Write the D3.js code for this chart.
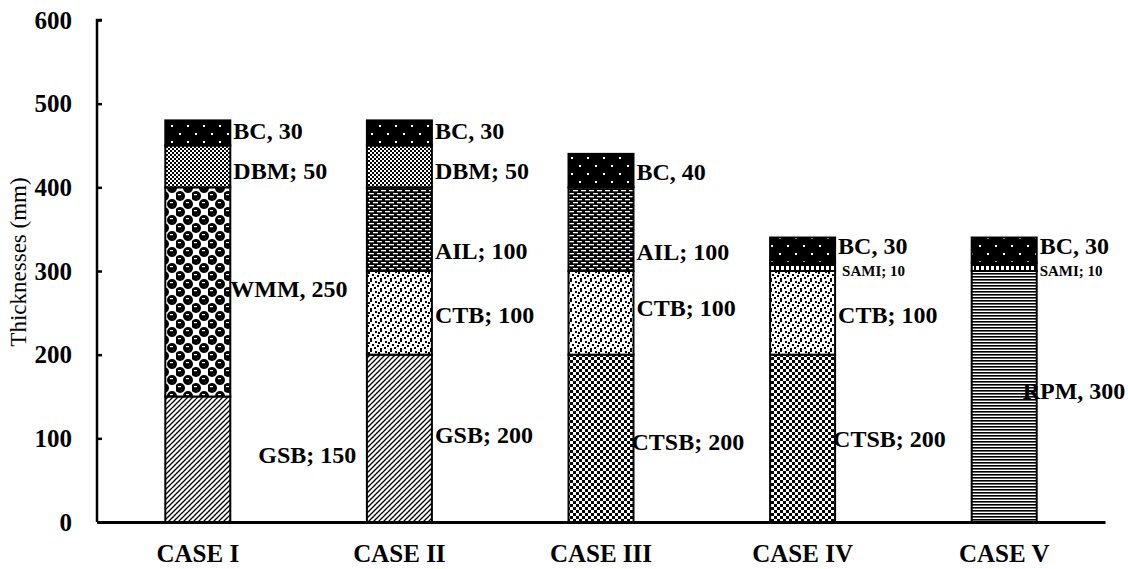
<!DOCTYPE html>
<html><head><meta charset="utf-8">
<script src="https://cdn.jsdelivr.net/npm/d3@7"></script>
<style>body{margin:0;background:#fff}svg{display:block}text{font-family:"Liberation Serif","Times New Roman",serif}</style>
</head><body><svg id="c" width="1128" height="569"></svg>
<script>
const cases = ["CASE I","CASE II","CASE III","CASE IV","CASE V"];
const caseLayers = [
  ["GSB","WMM","DBM","BC"],
  ["GSB","CTB","AIL","DBM","BC"],
  ["CTSB","CTB","AIL","BC"],
  ["CTSB","CTB","SAMI","BC"],
  ["RPM","SAMI","BC"]
];
const caseThickness = [
  [150,250,50,30],
  [200,100,100,50,30],
  [200,100,100,40],
  [200,100,10,30],
  [300,10,30]
];
const yTicks = [0,100,200,300,400,500,600];
const yTitle = "Thicknesses (mm)";
const labelSep = {BC:",", WMM:",", RPM:",", GSB:";", DBM:";", AIL:";", CTB:";", CTSB:";", SAMI:";"};
// layout tweaks for label placement (dx from bar right edge, dy from segment middle)
const labelDx = [[28,0,3,3],[3,3,3,3,3],[-2,3,3,3],[-2,3,7,3],[-14,3,3]];
const labelDy = [[-5,-3,4,-2],[-4,2,21,4,-2],[3,-5,22,1],[0,2,4,-4],[-6,4,-4]];

const svg = d3.select("#c");
const x = d3.scaleBand().domain(cases).range([97,1105]).padding(0);
const y = d3.scaleLinear().domain([0,600]).range([522,20]);
const barW = 65;

// patterns
const defs = svg.append("defs");
function pat(id,w,h,draw){const p=defs.append("pattern").attr("id",id).attr("patternUnits","userSpaceOnUse").attr("width",w).attr("height",h);draw(p);}
pat("BC",16,16,p=>{p.append("rect").attr("width",16).attr("height",16).attr("fill","#000");
  [[3,5],[11,13]].forEach(([a,b])=>p.append("rect").attr("x",a).attr("y",b).attr("width",2).attr("height",2).attr("fill","#fff"));});
pat("DBM",4,4,p=>{p.append("rect").attr("width",4).attr("height",4).attr("fill","#fff");
  p.append("rect").attr("width",2).attr("height",2).attr("fill","#000");p.append("rect").attr("x",2).attr("y",2).attr("width",2).attr("height",2).attr("fill","#000");});
pat("WMM",16,16,p=>{p.append("rect").attr("width",16).attr("height",16).attr("fill","#fff");
  [[4,4],[12,12],[12,-4],[-4,12],[20,12],[4,20]].forEach(([a,b])=>{p.append("circle").attr("cx",a).attr("cy",b).attr("r",5).attr("fill","#000");
   p.append("rect").attr("x",a-2).attr("y",b-2).attr("width",3).attr("height",1.2).attr("fill","#fff");});});
pat("GSB",5,5,p=>{p.append("rect").attr("width",5).attr("height",5).attr("fill","#fff");
  p.append("path").attr("d","M-1,6 L6,-1 M-1,1 L1,-1 M4,6 L6,4").attr("stroke","#000").attr("stroke-width",1.3);});
pat("AIL",8,6,p=>{p.append("rect").attr("width",8).attr("height",6).attr("fill","#000");
  p.append("rect").attr("x",1).attr("y",1).attr("width",5).attr("height",1.3).attr("fill","#fff");
  p.append("rect").attr("x",5).attr("y",4).attr("width",5).attr("height",1.3).attr("fill","#fff");
  p.append("rect").attr("x",-3).attr("y",4).attr("width",5).attr("height",1.3).attr("fill","#fff");});
pat("CTB",10,10,p=>{p.append("rect").attr("width",10).attr("height",10).attr("fill","#fff");
  [[0,0],[5,1],[2,4],[7,5],[0,8],[4,7],[8,2]].forEach(([a,b])=>p.append("rect").attr("x",a).attr("y",b).attr("width",2).attr("height",2).attr("fill","#000"));});
pat("CTSB",6,6,p=>{p.append("rect").attr("width",6).attr("height",6).attr("fill","#fff");
  p.append("rect").attr("width",3).attr("height",3).attr("fill","#000");p.append("rect").attr("x",3).attr("y",3).attr("width",3).attr("height",3).attr("fill","#000");});
pat("SAMI",5,8,p=>{p.append("rect").attr("width",5).attr("height",8).attr("fill","#000");
  p.append("rect").attr("x",1).attr("y",2).attr("width",3).attr("height",4).attr("fill","#fff");});
pat("RPM",4,3,p=>{p.append("rect").attr("width",4).attr("height",3).attr("fill","#fff");
  p.append("rect").attr("width",4).attr("height",1.6).attr("fill","#000");});

// bars
cases.forEach((c,i)=>{
  const cx = x(c)+x.bandwidth()/2;
  let base = 0;
  const segs = caseLayers[i].map((l,j)=>{const s={layer:l,t:caseThickness[i][j],y0:base,y1:base+caseThickness[i][j],j};base+=s.t;return s;});
  const g = svg.append("g");
  g.selectAll("rect").data(segs).join("rect")
   .attr("x",cx-barW/2).attr("width",barW)
   .attr("y",d=>y(d.y1)).attr("height",d=>y(d.y0)-y(d.y1))
   .attr("fill",d=>`url(#${d.layer})`).attr("stroke","#000").attr("stroke-width",2);
  g.selectAll("text").data(segs).join("text")
   .attr("x",d=>cx+barW/2+labelDx[i][d.j])
   .attr("y",d=>(y(d.y0)+y(d.y1))/2+labelDy[i][d.j])
   .attr("dy","0.35em")
   .attr("font-weight","bold")
   .attr("font-size",d=>d.layer==="SAMI"?15:24)
   .text(d=>`${d.layer}${labelSep[d.layer]} ${d.t}`);
});

// axes
const ya = svg.append("g").attr("transform","translate(97,0)")
  .call(d3.axisLeft(y).tickValues(yTicks).tickSize(-5).tickPadding(30));
ya.select(".domain").attr("stroke","#000").attr("stroke-width",2.5).attr("d","M5,20H0V522");
ya.selectAll(".tick line").attr("stroke","#000").attr("stroke-width",2.5);
ya.selectAll(".tick text").attr("font-family","Liberation Serif").attr("font-weight","bold").attr("font-size",25).attr("fill","#000").attr("x",-25);

const xa = svg.append("g").attr("transform","translate(0,522)")
  .call(d3.axisBottom(x).tickSize(0).tickPadding(22));
xa.select(".domain").attr("stroke","#000").attr("stroke-width",3);
xa.selectAll(".tick text").attr("font-family","Liberation Serif").attr("font-weight","bold").attr("font-size",25).attr("fill","#000");

svg.append("text").attr("transform","translate(26,262) rotate(-90)")
  .attr("text-anchor","middle").attr("font-size",23).text(yTitle);
</script></body></html>
